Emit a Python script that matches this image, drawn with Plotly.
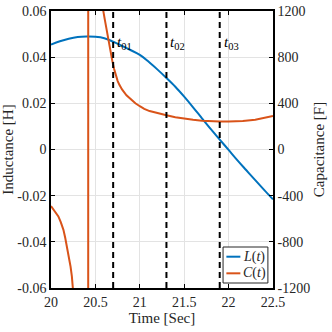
import plotly.graph_objects as go

# Data
time_L = [20.0, 20.1, 20.2, 20.3, 20.4, 20.5, 20.6, 20.7, 20.8, 20.9, 21.0, 21.1, 21.2, 21.3,
          21.4, 21.5, 21.6, 21.7, 21.8, 21.9, 22.0, 22.1, 22.2, 22.3, 22.4, 22.5]
inductance = [0.0454, 0.0469, 0.0480, 0.0487, 0.0489, 0.0488, 0.0482, 0.0467, 0.0449, 0.0430,
              0.0410, 0.0380, 0.0346, 0.0310, 0.0272, 0.0229, 0.0183, 0.0135, 0.0088, 0.0043,
              -0.0002, -0.0047, -0.0090, -0.0133, -0.0175, -0.0216]

time_C = [20.0, 20.04, 20.083, 20.11, 20.14, 20.16, 20.18, 20.2, 20.22, 20.235, 20.25, 20.3,
          20.35, 20.39, 20.418, 20.42, 20.45, 20.5, 20.55, 20.589, 20.605, 20.62, 20.645,
          20.67, 20.69, 20.71, 20.73, 20.75, 20.77, 20.8, 20.85, 20.91, 20.95, 21.0, 21.05,
          21.11, 21.17, 21.23, 21.3, 21.4, 21.49, 21.6, 21.7, 21.8, 21.9, 22.0, 22.16, 22.3,
          22.4, 22.5]
capacitance = [-490, -530, -580, -630, -696, -765, -841, -920, -1014, -1100, -1200, -1700,
               -2800, -6000, -100000, 100000, 6000, 2500, 1600, 1200, 1130, 1060, 964,
               850, 770, 700, 640, 595, 560, 520, 470, 425, 400, 375, 352,
               333, 320, 308, 296, 280, 268, 258, 250, 245, 242, 242, 247, 258,
               272, 290]

t_marks = [20.7, 21.3, 21.9]
t_labels = ["<i>t</i><sub>01</sub>", "<i>t</i><sub>02</sub>", "<i>t</i><sub>03</sub>"]

x_ticks = [20, 20.5, 21, 21.5, 22, 22.5]
x_text = ["20", "20.5", "21", "21.5", "22", "22.5"]
yl_ticks = [-0.06, -0.04, -0.02, 0, 0.02, 0.04, 0.06]
yl_text = ["-0.06", "-0.04", "-0.02", "0", "0.02", "0.04", "0.06"]
yr_ticks = [-1200, -800, -400, 0, 400, 800, 1200]
yr_text = ["-1200", "-800", "-400", "0", "400", "800", "1200"]

series_names = ["<i>L</i>(<i>t</i>)", "<i>C</i>(<i>t</i>)"]
series_colors = ["#0072BD", "#D95319"]

serif = "Liberation Serif"
ink = "#262626"

fig = go.Figure()
fig.add_trace(go.Scatter(x=time_L, y=inductance, mode="lines", line=dict(color=series_colors[0], width=2),
                         line_shape="spline", name=series_names[0], showlegend=False))
fig.add_trace(go.Scatter(x=time_C, y=capacitance, mode="lines", line=dict(color=series_colors[1], width=2),
                         name=series_names[1], yaxis="y2", showlegend=False))

for tm, lab in zip(t_marks, t_labels):
    fig.add_shape(type="line", x0=tm, x1=tm, y0=0, y1=1, xref="x", yref="paper",
                  line=dict(color="black", width=2, dash="6px,4px"))
    fig.add_annotation(x=tm, y=0.925, xref="x", yref="paper", text=lab, showarrow=False,
                       xanchor="left", xshift=2, font=dict(family=serif, size=15, color="black"))

# legend box (drawn by hand so it stays compact like the original)
fig.add_shape(type="rect", xref="paper", yref="paper", x0=0.775, x1=0.977, y0=0.018, y1=0.148,
              line=dict(color=ink, width=1), fillcolor="white", layer="above")
for i, (nm, col) in enumerate(zip(series_names, series_colors)):
    yy = 0.113 - i * 0.06
    fig.add_shape(type="line", xref="paper", yref="paper", x0=0.79, x1=0.853, y0=yy, y1=yy,
                  line=dict(color=col, width=2), layer="above")
    fig.add_annotation(x=0.855, y=yy, xref="paper", yref="paper", text=nm, showarrow=False,
                       xanchor="left", yanchor="middle",
                       font=dict(family=serif, size=14, color=ink))

axis_common = dict(showline=True, linecolor="black", linewidth=1.5, ticks="inside", ticklen=4,
                   tickcolor="black", zeroline=False, automargin=False, ticklabeloverflow="allow",
                   tickfont=dict(family=serif, size=14, color=ink))

fig.update_layout(
    width=332, height=332,
    margin=dict(l=51, r=59, t=11, b=44),
    plot_bgcolor="white", paper_bgcolor="white",
    font=dict(family=serif),
    showlegend=False,
    xaxis=dict(range=[20, 22.5], tickvals=x_ticks, ticktext=x_text, mirror="ticks", gridcolor="#e3e3e3",
               title=dict(text="Time [Sec]", font=dict(family=serif, size=15, color=ink), standoff=2),
               **axis_common),
    yaxis=dict(range=[-0.06, 0.06], tickvals=yl_ticks, ticktext=yl_text, gridcolor="#e3e3e3",
               title=dict(text="Inductance [H]", font=dict(family=serif, size=15, color=ink), standoff=4),
               **axis_common),
    yaxis2=dict(range=[-1200, 1200], tickvals=yr_ticks, ticktext=yr_text, overlaying="y", side="right",
                showgrid=False,
                title=dict(text="Capacitance [F]", font=dict(family=serif, size=15, color=ink), standoff=4),
                **axis_common),
)

# drop the default 8px page margin so the figure sits at the window's corner
fig.write_html("out.html", config={"displayModeBar": False},
               post_script="document.body.style.margin='0';")
